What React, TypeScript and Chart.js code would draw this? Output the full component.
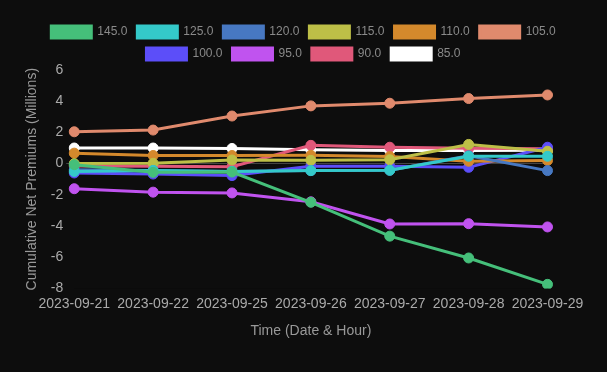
import React, { useEffect, useRef } from "react";
import { Chart, registerables } from "chart.js";

Chart.register(...registerables);

const categories = ["2023-09-21", "2023-09-22", "2023-09-25", "2023-09-26", "2023-09-27", "2023-09-28", "2023-09-29"];

const strikes = ["145.0", "125.0", "120.0", "115.0", "110.0", "105.0", "100.0", "95.0", "90.0", "85.0"];
const colors = ["#45bf7a", "#34c9c9", "#4778c2", "#bdbf47", "#d4892c", "#e08a6d", "#5c4ef9", "#c053ef", "#e0587a", "#ffffff"];

const s145 = [-0.07, -0.56, -0.54, -2.48, -4.65, -6.05, -7.74];
const s125 = [-0.5, -0.44, -0.5, -0.45, -0.43, 0.47, 0.47];
const s120 = [-0.4, -0.45, -0.5, -0.45, -0.43, 0.5, -0.45];
const s115 = [0.0, 0.02, 0.23, 0.21, 0.25, 1.23, 0.79];
const s110 = [0.67, 0.52, 0.52, 0.53, 0.45, 0.15, 0.2];
const s105 = [2.04, 2.15, 3.05, 3.7, 3.87, 4.17, 4.4];
const s100 = [-0.6, -0.67, -0.77, -0.17, -0.17, -0.24, 1.05];
const s95 = [-1.61, -1.83, -1.88, -2.45, -3.87, -3.85, -4.06];
const s90 = [-0.15, -0.17, -0.2, 1.17, 1.05, 0.98, 0.95];
const s85 = [1.0, 1.0, 0.97, 0.88, 0.84, 0.84, 0.85];

const seriesValues = [s145, s125, s120, s115, s110, s105, s100, s95, s90, s85];

const yMin = -8;
const yMax = 6;
const yStep = 2;

export default function App() {
  const ref = useRef<HTMLCanvasElement | null>(null);

  useEffect(() => {
    document.body.style.margin = "0";
    document.body.style.background = "#0d0d0d";
    const canvas = ref.current;
    if (!canvas) return;
    const chart = new Chart(canvas, {
      type: "line",
      data: {
        labels: categories,
        datasets: seriesValues.map((vals, i) => ({
          label: strikes[i],
          data: vals,
          yAxisID: "y",
          borderColor: colors[i],
          backgroundColor: colors[i],
          borderWidth: 3,
          pointRadius: 5,
          pointBorderWidth: 1,
          pointBackgroundColor: colors[i],
          pointBorderColor: colors[i],
          tension: 0,
          fill: false,
        })),
      },
      options: {
        responsive: false,
        animation: false,
        layout: { padding: { left: 20, right: 20, top: 16, bottom: 28 } },
        plugins: {
          legend: {
            labels: { color: "#8a8a8a", font: { size: 12 } },
          },
          tooltip: { enabled: false },
        },
        scales: {
          x: {
            grid: { display: false },
            ticks: { color: "#aaaaaa", font: { size: 14 }, padding: -1 },
            title: { display: true, text: "Time (Date & Hour)", color: "#999999", font: { size: 14 }, padding: { top: 12, bottom: 4 } },
          },
          y: {
            min: yMin,
            max: yMax,
            ticks: { stepSize: yStep, color: "#aaaaaa", font: { size: 14 } },
            grid: {
              color: (ctx: any) => (ctx.tick && ctx.tick.value === 0 ? "#444444" : "rgba(0,0,0,0)"),
            },
            border: { display: false },
            title: { display: true, text: "Cumulative Net Premiums (Millions)", color: "#999999", font: { size: 14 }, padding: { top: 4, bottom: 7 } },
          },
          yRightSpacer: {
            type: "linear",
            position: "right",
            grid: { display: false, drawTicks: false },
            ticks: { display: false },
            border: { display: false },
            afterFit: (scale: any) => {
              scale.width = 39.5;
            },
          },
        },
      },
    });
    return () => chart.destroy();
  }, []);

  return (
    <div style={{ width: 607, height: 372, background: "#0d0d0d" }}>
      <canvas ref={ref} width={607} height={372} />
    </div>
  );
}
